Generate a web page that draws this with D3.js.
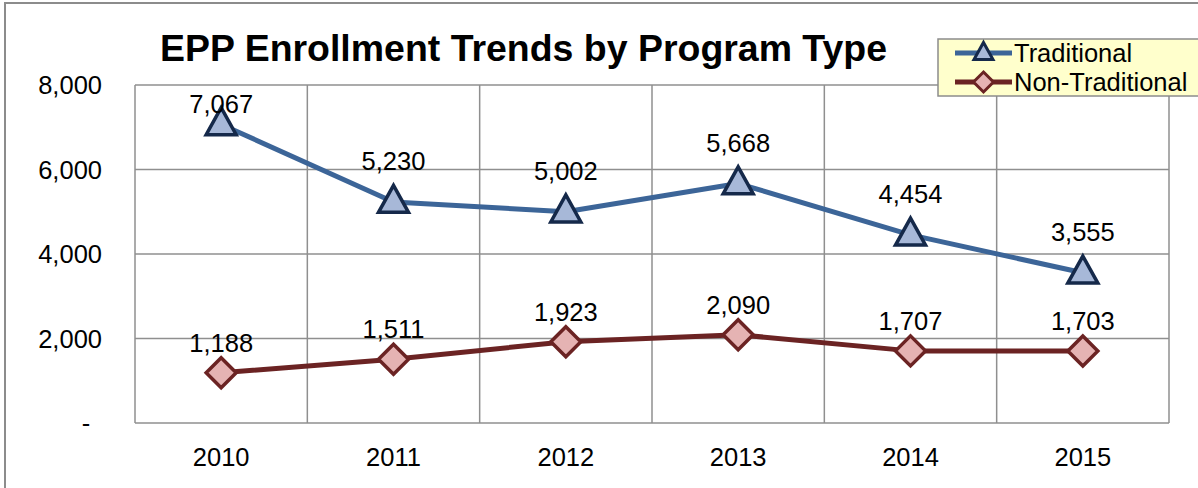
<!DOCTYPE html>
<html>
<head>
<meta charset="utf-8">
<script src="https://cdn.jsdelivr.net/npm/d3@7"></script>
<style>
  html, body { margin: 0; padding: 0; background: #fff; }
  svg { display: block; font-family: "Liberation Sans", Arial, sans-serif; }
</style>
</head>
<body>
<svg id="chart" width="1198" height="488"></svg>
<script>
// Enrollment counts by academic year
const years = ["2010", "2011", "2012", "2013", "2014", "2015"];
const traditional = [7067, 5230, 5002, 5668, 4454, 3555];
const nonTraditional = [1188, 1511, 1923, 2090, 1707, 1703];
const yTicks = [0, 2000, 4000, 6000, 8000];
const seriesNames = ["Traditional", "Non-Traditional"];

const svg = d3.select("#chart");
const W = 1198, H = 488;
const plot = { left: 135, right: 1169, top: 85, bottom: 423 };
const fontSize = 25.5;

// outer chart frame
svg.append("rect")
  .attr("x", 5).attr("y", 3).attr("width", W + 10).attr("height", H + 10)
  .attr("fill", "#fff").attr("stroke", "#8c8c8c").attr("stroke-width", 2);

const x = d3.scaleBand().domain(years).range([plot.left, plot.right]).padding(0);
const y = d3.scaleLinear().domain([0, 8000]).range([plot.bottom, plot.top]);

const gridColor = "#8f8f8f";
const grid = svg.append("g");
// horizontal gridlines
grid.selectAll("line.h").data(yTicks).join("line")
  .attr("x1", plot.left).attr("x2", plot.right)
  .attr("y1", d => y(d)).attr("y2", d => y(d))
  .attr("stroke", gridColor).attr("stroke-width", 1.5);
// vertical gridlines at category boundaries
const bounds = years.map(d => x(d)).concat([x(years[years.length - 1]) + x.bandwidth()]);
grid.selectAll("line.v").data(bounds).join("line")
  .attr("x1", d => d).attr("x2", d => d)
  .attr("y1", plot.top).attr("y2", plot.bottom)
  .attr("stroke", gridColor).attr("stroke-width", 1.5);

// y axis labels
const fmt = d3.format(",");
svg.append("g").selectAll("text").data(yTicks).join("text")
  .attr("x", d => d === 0 ? 86 : 102)
  .attr("y", d => y(d))
  .attr("dy", "0.36em")
  .attr("text-anchor", d => d === 0 ? "middle" : "end")
  .attr("font-size", fontSize).attr("fill", "#000")
  .text(d => d === 0 ? "-" : fmt(d));

// x axis labels
svg.append("g").selectAll("text").data(years).join("text")
  .attr("x", d => x(d) + x.bandwidth() / 2)
  .attr("y", 466)
  .attr("text-anchor", "middle")
  .attr("font-size", fontSize).attr("fill", "#000")
  .text(d => d);

// title
svg.append("text")
  .attr("x", 160).attr("y", 61)
  .attr("font-size", 36).attr("font-weight", "bold")
  .attr("textLength", 727).attr("lengthAdjust", "spacingAndGlyphs")
  .text("EPP Enrollment Trends by Program Type");

const series = [
  { name: seriesNames[0], values: traditional, line: "#3c6598", fill: "#a7b8d8", stroke: "#15294a", shape: "tri", labelGap: 41 },
  { name: seriesNames[1], values: nonTraditional, line: "#6b2323", fill: "#e5b3b3", stroke: "#6b2323", shape: "dia", labelGap: 30 }
];

function markerPath(shape, s) {
  if (shape === "tri") {
    const h = s * 0.9;
    return `M0,${-h * 0.62} L${s / 2},${h * 0.38} L${-s / 2},${h * 0.38} Z`;
  }
  const r = s / 2;
  return `M0,${-r} L${r},0 L0,${r} L${-r},0 Z`;
}

const lineGen = d3.line()
  .x((d, i) => x(years[i]) + x.bandwidth() / 2)
  .y(d => y(d));

series.forEach(s => {
  const g = svg.append("g");
  g.append("path").datum(s.values)
    .attr("d", lineGen)
    .attr("fill", "none").attr("stroke", s.line).attr("stroke-width", 5)
    .attr("stroke-linejoin", "round");
  g.selectAll("path.m").data(s.values).join("path")
    .attr("transform", (d, i) => `translate(${x(years[i]) + x.bandwidth() / 2},${y(d)})`)
    .attr("d", markerPath(s.shape, s.shape === "tri" ? 30 : 30))
    .attr("fill", s.fill).attr("stroke", s.stroke).attr("stroke-width", 3.5)
    .attr("stroke-linejoin", "miter");
  g.selectAll("text").data(s.values).join("text")
    .attr("x", (d, i) => x(years[i]) + x.bandwidth() / 2)
    .attr("y", d => Math.max(y(d) - s.labelGap, plot.top + 19))
    .attr("dy", "0.36em")
    .attr("text-anchor", "middle")
    .attr("font-size", fontSize).attr("fill", "#000")
    .text(d => fmt(d));
});

// legend
const lg = svg.append("g");
lg.append("rect")
  .attr("x", 938).attr("y", 39).attr("width", 270).attr("height", 57)
  .attr("fill", "#ffffcc").attr("stroke", "#8c8c8c").attr("stroke-width", 1.5);
series.forEach((s, i) => {
  const cy = 53 + i * 29;
  lg.append("line")
    .attr("x1", 955).attr("x2", 1012).attr("y1", cy).attr("y2", cy)
    .attr("stroke", s.line).attr("stroke-width", 5);
  lg.append("path")
    .attr("transform", `translate(983.5,${cy})`)
    .attr("d", markerPath(s.shape, s.shape === "tri" ? 19 : 20))
    .attr("fill", s.fill).attr("stroke", s.stroke).attr("stroke-width", 3);
  lg.append("text")
    .attr("x", 1014).attr("y", cy).attr("dy", "0.36em")
    .attr("font-size", fontSize).attr("fill", "#000")
    .text(s.name);
});
</script>
</body>
</html>
